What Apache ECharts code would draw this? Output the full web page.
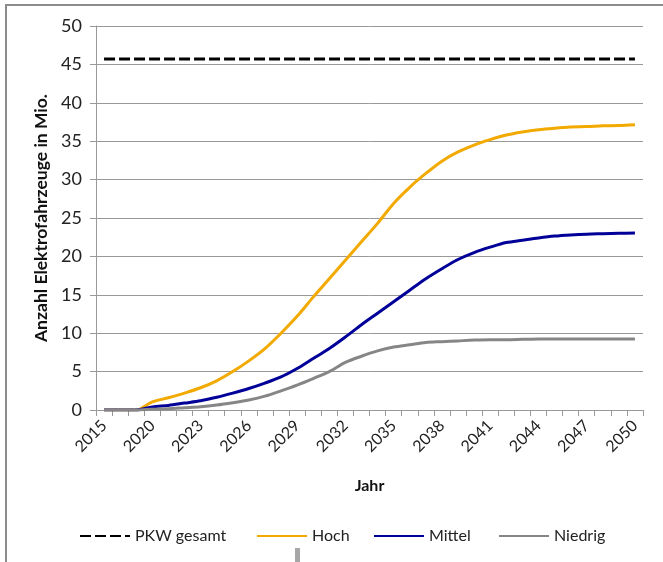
<!DOCTYPE html>
<html>
<head>
<meta charset="utf-8">
<script src="https://cdn.jsdelivr.net/npm/echarts@6/dist/echarts.min.js"></script>
<style>
  html, body { margin: 0; padding: 0; background: #fff; }
  #chart { width: 663px; height: 562px; }
</style>
</head>
<body>
<div id="chart"></div>
<script>
// Jahre (zwei Zwischenpunkte vor 2020 ohne Beschriftung)
const jahre = ['2015', '2016', '2018', '2020', '2021', '2022', '2023', '2024', '2025', '2026',
  '2027', '2028', '2029', '2030', '2031', '2032', '2033', '2034', '2035', '2036',
  '2037', '2038', '2039', '2040', '2041', '2042', '2043', '2044', '2045', '2046',
  '2047', '2048', '2049', '2050'];

const pkwGesamt = jahre.map(() => 45.7);

const hoch = [0, 0, 0, 1.05, 1.6, 2.2, 2.9, 3.8, 5.0, 6.4,
  8.0, 10.0, 12.2, 14.7, 17.1, 19.5, 21.9, 24.3, 26.9, 29.0,
  30.8, 32.4, 33.6, 34.5, 35.2, 35.8, 36.2, 36.5, 36.7, 36.85,
  36.9, 37.0, 37.05, 37.15];

const mittel = [0, 0, 0, 0.4, 0.6, 0.9, 1.2, 1.65, 2.2, 2.8,
  3.5, 4.3, 5.4, 6.7, 8.0, 9.5, 11.1, 12.6, 14.1, 15.6,
  17.1, 18.4, 19.6, 20.5, 21.2, 21.8, 22.1, 22.4, 22.65, 22.8,
  22.9, 22.95, 23.0, 23.05];

const niedrig = [0, 0, 0, 0.1, 0.17, 0.3, 0.43, 0.65, 0.95, 1.3,
  1.8, 2.5, 3.25, 4.1, 5.0, 6.2, 7.0, 7.7, 8.2, 8.5,
  8.8, 8.9, 9.0, 9.1, 9.15, 9.15, 9.2, 9.25, 9.25, 9.25,
  9.25, 9.25, 9.25, 9.25];

const font = 'Lato, "Noto Sans", sans-serif';

const chart = echarts.init(document.getElementById('chart'), null, { renderer: 'canvas' });

function legendItem(name, left) {
  return {
    data: [name],
    left: left,
    top: 528,
    padding: 0,
    itemWidth: 50,
    itemHeight: 14,
    itemStyle: { opacity: 0 },
    textStyle: { fontFamily: font, fontSize: 16, color: '#222' }
  };
}

chart.setOption({
  animation: false,
  backgroundColor: '#fff',
  grid: { left: 96, right: 20, top: 26, bottom: 152 },
  legend: [
    legendItem('PKW gesamt', 79),
    legendItem('Hoch', 256),
    legendItem('Mittel', 373),
    legendItem('Niedrig', 498)
  ],
  xAxis: {
    type: 'category',
    data: jahre,
    boundaryGap: true,
    name: 'Jahr',
    nameLocation: 'middle',
    nameGap: 68,
    nameTextStyle: { fontFamily: font, fontSize: 16, fontWeight: 'bold', color: '#111' },
    axisLine: { lineStyle: { color: '#999', width: 1 } },
    axisTick: { show: true, interval: 0, length: 6, lineStyle: { color: '#999' } },
    axisLabel: {
      interval: 2,
      rotate: 45,
      margin: 13,
      fontFamily: font,
      fontSize: 16,
      color: '#222'
    },
    splitLine: { show: false }
  },
  yAxis: {
    type: 'value',
    min: 0,
    max: 50,
    interval: 5,
    name: 'Anzahl Elektrofahrzeuge in Mio.',
    nameLocation: 'middle',
    nameRotate: 90,
    nameGap: 44,
    nameTextStyle: { fontFamily: font, fontSize: 17.5, fontWeight: 'bold', color: '#111' },
    axisLine: { show: true, lineStyle: { color: '#999', width: 1 } },
    axisTick: { show: true, length: 6, lineStyle: { color: '#999' } },
    axisLabel: { margin: 14, fontFamily: font, fontSize: 18, color: '#222' },
    splitLine: { show: true, lineStyle: { color: '#999', width: 1 } }
  },
  series: [
    {
      name: 'PKW gesamt',
      type: 'line',
      data: pkwGesamt,
      symbol: 'none',
      lineStyle: { color: '#000', width: 3, type: [11, 4] },
      itemStyle: { color: '#000' }
    },
    {
      name: 'Hoch',
      type: 'line',
      data: hoch,
      symbol: 'none',
      smooth: 0.3,
      lineStyle: { color: '#F2A900', width: 3 },
      itemStyle: { color: '#F2A900' }
    },
    {
      name: 'Mittel',
      type: 'line',
      data: mittel,
      symbol: 'none',
      smooth: 0.3,
      lineStyle: { color: '#000099', width: 3 },
      itemStyle: { color: '#000099' }
    },
    {
      name: 'Niedrig',
      type: 'line',
      data: niedrig,
      symbol: 'none',
      smooth: 0.3,
      lineStyle: { color: '#868686', width: 3 },
      itemStyle: { color: '#868686' }
    }
  ],
  graphic: [
    // Rahmen oben und links
    {
      type: 'polyline',
      shape: { points: [[6, 562], [6, 5], [663, 5]] },
      style: { stroke: '#8c8c8c', lineWidth: 2, fill: null }
    },
    // kleiner grauer Balken unter der Legende
    {
      type: 'rect',
      shape: { x: 295, y: 548, width: 5, height: 14 },
      style: { fill: '#a6a6a6' }
    }
  ]
});
</script>
</body>
</html>
